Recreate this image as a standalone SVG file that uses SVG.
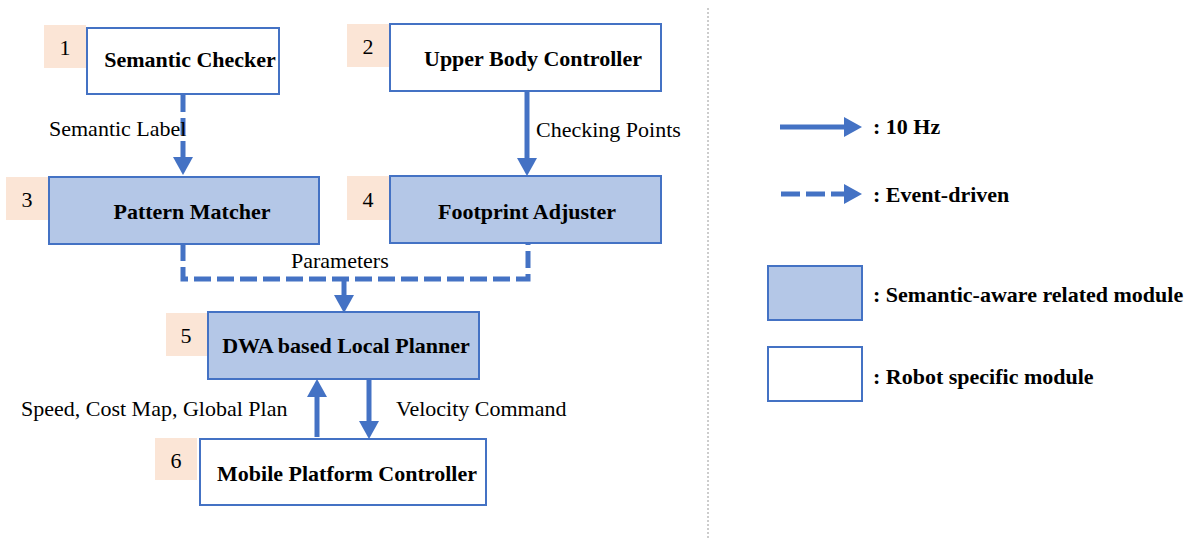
<svg xmlns="http://www.w3.org/2000/svg" width="1191" height="538" viewBox="0 0 1191 538">
<style>
.bg{fill:#ffffff}
.white{fill:#ffffff;stroke:#4472C4;stroke-width:2}
.blue{fill:#B4C7E7;stroke:#4472C4;stroke-width:2}
.badge{fill:#FBE5D6}
text{font-family:"Liberation Serif","Times New Roman",serif;fill:#000}
.num{font-size:22px;text-anchor:middle}
.title{font-size:22px;font-weight:bold;text-anchor:middle}
.lab{font-size:22px}
.leg{font-size:22px;font-weight:bold}
.solid{fill:none;stroke:#4472C4;stroke-width:5}
.dash{fill:none;stroke:#4472C4;stroke-width:5;stroke-dasharray:17 6}
</style>
<defs>
<marker id="head" markerUnits="userSpaceOnUse" markerWidth="18" markerHeight="20" refX="0" refY="10" orient="auto">
<path d="M0,0 L18,10 L0,20 z" fill="#4472C4"/>
</marker>
</defs>
<rect class="bg" x="0" y="0" width="1191" height="538"/>
<line x1="708" y1="8" x2="708" y2="538" stroke="#9a9a9a" stroke-width="1" stroke-dasharray="2 2"/>

<g id="node1">
<rect class="badge" x="44" y="25" width="42" height="43"/>
<text class="num" x="65" y="55">1</text>
<rect class="white" x="87" y="28" width="192" height="66"/>
<text class="title" x="190" y="67">Semantic Checker</text>
</g>
<g id="node2">
<rect class="badge" x="347" y="24" width="42" height="43"/>
<text class="num" x="368" y="54">2</text>
<rect class="white" x="390" y="24" width="271" height="67"/>
<text class="title" x="533" y="66">Upper Body Controller</text>
</g>
<g id="node3">
<rect class="badge" x="6" y="177" width="42" height="43"/>
<text class="num" x="27" y="207">3</text>
<rect class="blue" x="49" y="177" width="270" height="67"/>
<text class="title" x="192" y="219">Pattern Matcher</text>
</g>
<g id="node4">
<rect class="badge" x="347" y="176" width="42" height="44"/>
<text class="num" x="368" y="207">4</text>
<rect class="blue" x="390" y="176" width="271" height="67"/>
<text class="title" x="527" y="219">Footprint Adjuster</text>
</g>
<g id="node5">
<rect class="badge" x="166" y="313" width="41" height="43"/>
<text class="num" x="186" y="343">5</text>
<rect class="blue" x="208" y="312" width="271" height="67"/>
<text class="title" x="346" y="353">DWA based Local Planner</text>
</g>
<g id="node6">
<rect class="badge" x="155" y="438" width="42" height="42"/>
<text class="num" x="176" y="468">6</text>
<rect class="white" x="200" y="439" width="286" height="66"/>
<text class="title" x="347" y="481">Mobile Platform Controller</text>
</g>

<g id="connectors">
<line class="dash" x1="183" y1="95" x2="183" y2="157" marker-end="url(#head)"/>
<line class="solid" x1="527" y1="92" x2="527" y2="158" marker-end="url(#head)"/>
<polyline class="dash" points="183,244 183,279 528,279 528,244"/>
<line class="solid" x1="344" y1="279" x2="344" y2="295" marker-end="url(#head)"/>
<line class="solid" x1="317" y1="437" x2="317" y2="397" marker-end="url(#head)"/>
<line class="solid" x1="369" y1="380" x2="369" y2="421" marker-end="url(#head)"/>
<text class="lab" x="49" y="136">Semantic Label</text>
<text class="lab" x="536" y="137">Checking Points</text>
<text class="lab" x="291" y="268">Parameters</text>
<text class="lab" x="21" y="416">Speed, Cost Map, Global Plan</text>
<text class="lab" x="396" y="416">Velocity Command</text>
</g>

<g id="legend">
<line class="solid" x1="780" y1="127" x2="844" y2="127" marker-end="url(#head)"/>
<text class="leg" x="873" y="134">: 10 Hz</text>
<line class="solid" x1="781" y1="194" x2="844" y2="194" stroke-dasharray="19 6" marker-end="url(#head)"/>
<text class="leg" x="873" y="202">: Event-driven</text>
<rect class="blue" x="768" y="266" width="94" height="54"/>
<text class="leg" x="873" y="302">: Semantic-aware related module</text>
<rect class="white" x="768" y="347" width="94" height="54"/>
<text class="leg" x="873" y="384">: Robot specific module</text>
</g>
</svg>
